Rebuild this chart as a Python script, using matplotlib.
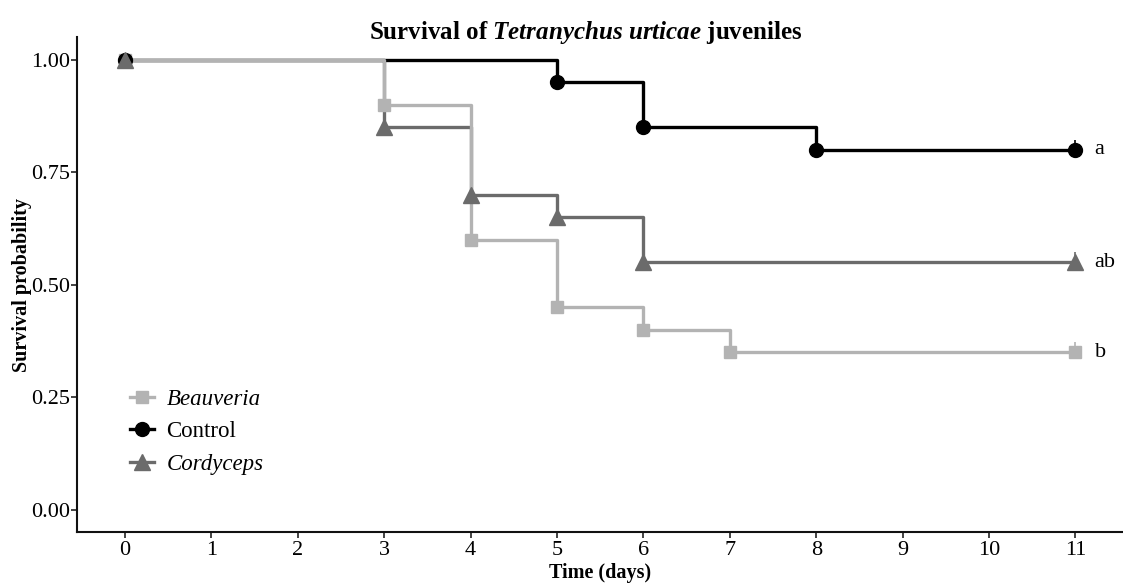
#!/usr/bin/env python3

import matplotlib
matplotlib.use("Agg")
import matplotlib.pyplot as plt
from matplotlib.lines import Line2D

# Kaplan-Meier estimates (time in days, survival probability)
beauveria_t = [0, 3, 4, 5, 6, 7, 11]
beauveria_s = [1.00, 0.90, 0.60, 0.45, 0.40, 0.35, 0.35]

control_t = [0, 5, 6, 8, 11]
control_s = [1.00, 0.95, 0.85, 0.80, 0.80]

cordyceps_t = [0, 3, 4, 5, 6, 11]
cordyceps_s = [1.00, 0.85, 0.70, 0.65, 0.55, 0.55]

group_letters = ["b", "a", "ab"]
x_ticks = list(range(12))
y_ticks = [0.00, 0.25, 0.50, 0.75, 1.00]

C_BEAU = "#b3b3b3"
C_CTRL = "#000000"
C_CORD = "#6b6b6b"

plt.rcParams["font.family"] = ["Liberation Serif", "DejaVu Serif"]
plt.rcParams["mathtext.fontset"] = "custom"
plt.rcParams["mathtext.it"] = "Liberation Serif:italic:bold"
plt.rcParams["mathtext.rm"] = "Liberation Serif:bold"

fig = plt.figure(figsize=(11.23, 5.88), dpi=100)
ax = fig.add_axes([0.069, 0.0944, 0.931, 0.842])

series = [
    ("Cordyceps", cordyceps_t, cordyceps_s, C_CORD, "^", 11),
    ("Control", control_t, control_s, C_CTRL, "o", 10),
    ("Beauveria", beauveria_t, beauveria_s, C_BEAU, "s", 9),
]

for name, t, s, c, m, ms in series:
    ax.step(t, s, where="post", color=c, linewidth=2.4, zorder=2)

for name, t, s, c, m, ms in [series[2], series[1], series[0]]:
    ax.plot(t, s, linestyle="none", marker=m, markersize=ms, color=c, zorder=3)
    # censoring mark at the end of follow-up
    ax.plot(t[-1], s[-1] + 0.014, linestyle="none", marker="|", markersize=6,
            markeredgewidth=1.2, color=c, zorder=3)

# significance letters
for letter, t, s in zip(group_letters, [beauveria_t, control_t, cordyceps_t],
                        [beauveria_s, control_s, cordyceps_s]):
    ax.text(t[-1] + 0.22, s[-1], letter, fontsize=16, ha="left", va="center")

ax.set_xlim(-0.55, 11.55)
ax.set_ylim(-0.05, 1.05)
ax.set_xticks(x_ticks)
ax.set_yticks(y_ticks)
ax.set_yticklabels([f"{v:.2f}" for v in y_ticks])
ax.tick_params(labelsize=16, length=4, width=1.2, color="#222222", pad=2)
ax.tick_params(axis="y", pad=1)

for side in ["top", "right"]:
    ax.spines[side].set_visible(False)
for side in ["left", "bottom"]:
    ax.spines[side].set_linewidth(1.5)
    ax.spines[side].set_color("#111111")

ax.set_xlabel("Time (days)", fontsize=14.5, fontweight="bold", labelpad=2)
ax.set_ylabel("Survival probability", fontsize=14.5, fontweight="bold", labelpad=0)

fig.text(0.522, 0.945, r"Survival of $\mathit{Tetranychus\ urticae}$ juveniles",
         ha="center", va="center", fontsize=18, fontweight="bold")

handles = [
    Line2D([], [], color=C_BEAU, marker="s", markersize=9, linewidth=2.4),
    Line2D([], [], color=C_CTRL, marker="o", markersize=10, linewidth=2.4),
    Line2D([], [], color=C_CORD, marker="^", markersize=11, linewidth=2.4),
]
labels = ["Beauveria", "Control", "Cordyceps"]
leg = ax.legend(handles, labels, loc="upper left", bbox_to_anchor=(0.05, 0.29),
                frameon=False, fontsize=16.5, handlelength=1.05, handletextpad=0.55,
                labelspacing=0.5, borderaxespad=0, borderpad=0)
for txt, name in zip(leg.get_texts(), labels):
    if name != "Control":
        txt.set_fontstyle("italic")

fig.savefig("out.png", dpi=100)
